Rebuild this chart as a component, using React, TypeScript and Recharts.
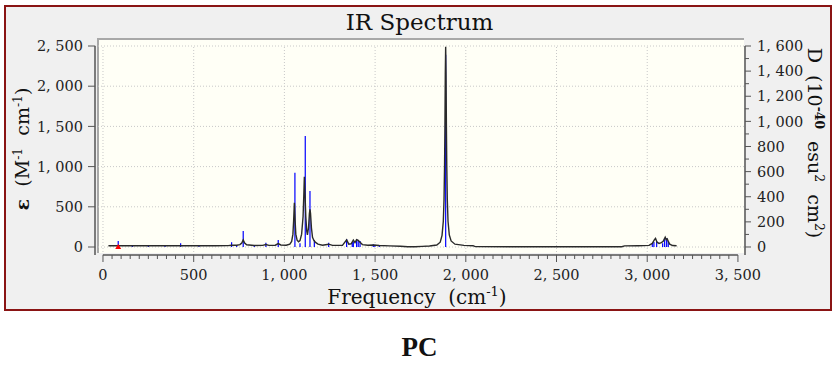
import React from 'react';
import { ComposedChart, Line, Scatter, ErrorBar, XAxis, YAxis, ReferenceLine } from 'recharts';

// broadened spectrum: frequency (cm-1) / epsilon
const curveFreq = [
  30, 84, 162, 250, 342, 428, 529, 620, 690, 709, 737, 755, 765, 773, 781, 792, 834, 880, 898, 915,
  950, 966, 980, 1010, 1030, 1040, 1047, 1051, 1055, 1059, 1063, 1070, 1078, 1086, 1095, 1103, 1107,
  1110, 1114, 1118, 1123, 1127, 1133, 1138, 1141, 1144, 1149, 1155, 1162, 1170, 1185, 1210, 1244,
  1265, 1320, 1343, 1355, 1368, 1380, 1389, 1398, 1407, 1417, 1430, 1460, 1490, 1523, 1580, 1640,
  1680, 1720, 1760, 1800, 1840, 1859, 1869, 1876, 1880, 1883, 1885, 1887, 1889, 1891, 1893, 1895,
  1898, 1902, 1909, 1919, 1940, 1990, 2040, 2052, 2300, 2600, 2860, 2875, 2950, 3010, 3028, 3040,
  3046, 3054, 3065, 3078, 3088, 3094, 3099, 3104, 3110, 3116, 3124, 3140, 3162,
];
const curveEps = [
  15, 17, 15, 15, 16, 16, 15, 15, 17, 22, 22, 30, 50, 88, 50, 28, 18, 20, 30, 20,
  22, 42, 25, 22, 35, 70, 160, 330, 551, 330, 160, 85, 65, 80, 160, 380, 640,
  872, 640, 380, 200, 150, 240, 420, 468, 420, 240, 120, 85, 60, 35, 22, 35,
  20, 20, 88, 35, 40, 85, 55, 92, 82, 60, 30, 22, 24, 18, 14, 10,
  4, 3, 8, 12, 25, 60, 145, 320, 590, 1020, 1520, 2150, 2490, 2150, 1520, 1020,
  590, 320, 150, 75, 35, 20, 16, 5, 3, 3, 4, 14, 16, 20, 45, 90,
  108, 60, 45, 55, 70, 100, 122, 92, 102, 70, 35, 18, 15,
];

// stick spectrum: frequency / D (right axis)
const stickFreq = [
  84, 162, 250, 342, 428, 529, 709, 737, 773, 834, 898, 966, 1058, 1086, 1115, 1141, 1165, 1244,
  1343, 1374, 1380, 1398, 1407, 1417, 1490, 1499, 1523, 1889, 3028, 3037, 3052, 3085, 3096, 3107, 3116,
];
const stickD = [
  48, 16, 14, 16, 29, 12, 37, 16, 127, 12, 34, 56, 591, 29, 884, 446, 56, 34,
  64, 37, 42, 64, 56, 48, 21, 18, 15, 1530, 29, 40, 48, 29, 64, 69, 48,
];

// selected mode marker
const markerFreq = [84];

const freqTicks = [0, 500, 1000, 1500, 2000, 2500, 3000, 3500];
const epsTicks = [0, 500, 1000, 1500, 2000, 2500];
const dTicks = [0, 200, 400, 600, 800, 1000, 1200, 1400, 1600];

const freqMinor = Array.from({ length: 71 }, (_, i) => i * 50);
const dMinor = Array.from({ length: 17 }, (_, i) => i * 100);

const curve = curveFreq.map((f, i) => ({ f, eps: curveEps[i] }));
const sticks = stickFreq.map((f, i) => ({ f, d: stickD[i], err: [stickD[i], 0] }));
const markers = markerFreq.map((f) => ({ f, eps: 0 }));

const fmt = (v: number) => v.toLocaleString('en-US').replace(',', ', ');
const FONT = '"DejaVu Serif", serif';

const XTick = ({ x, y, payload }: any) => {
  const v = payload.value;
  const major = freqTicks.includes(v);
  return (
    <g>
      <line x1={x} y1={y} x2={x} y2={y + (major ? 7 : 4)} stroke="#555" strokeWidth={1} />
      {major && (
        <text x={x} y={y + 25} textAnchor="middle" fill="#222" fontSize={14.5} fontFamily={FONT}>
          {fmt(v)}
        </text>
      )}
    </g>
  );
};

const RightTick = ({ x, y, payload }: any) => {
  const v = payload.value;
  const major = dTicks.includes(v);
  return (
    <g>
      <line x1={x} y1={y} x2={x + (major ? 6 : 4)} y2={y} stroke="#555" strokeWidth={1} />
      {major && (
        <text x={x + 12} y={y} dy="0.36em" textAnchor="start" fill="#222" fontSize={14.5} fontFamily={FONT}>
          {fmt(v)}
        </text>
      )}
    </g>
  );
};

const Marker = ({ cx, cy }: any) => (
  <polygon points={`${cx},${cy - 3} ${cx - 3},${cy + 2} ${cx + 3},${cy + 2}`} fill="#ff0000" />
);

const NoDot = () => <g />;

export default function App() {
  const nb = '\u00a0\u00a0';
  const sup = { fontSize: '0.65em', lineHeight: 0 };
  return (
    <div style={{ position: 'absolute', left: 0, top: 0, width: 839, height: 366, background: '#fff' }}>
      <div
        style={{
          position: 'absolute', left: 4, top: 5, width: 828, height: 306,
          boxSizing: 'border-box', border: '2px solid #8a1414', background: '#f0f0f0',
        }}
      />
      <div
        style={{
          position: 'absolute', left: 97, top: 38, width: 647, height: 215, boxSizing: 'border-box',
          background: '#fffff6', borderTop: '2px solid #a8a8a8', borderLeft: '2px solid #a8a8a8',
        }}
      />
      <div
        style={{
          position: 'absolute', left: 0, top: 8, width: 839, textAlign: 'center',
          fontFamily: FONT, fontSize: 23, lineHeight: '28px', color: '#111',
        }}
      >
        IR Spectrum
      </div>
      <div style={{ position: 'absolute', left: 0, top: 0 }}>
        <ComposedChart width={839} height={320} data={curve} margin={{ top: 46, right: 0, bottom: 25, left: 0 }}>
          <XAxis
            dataKey="f"
            type="number"
            domain={[-44, 3539]}
            allowDataOverflow
            ticks={freqMinor}
            interval={0}
            tick={<XTick />}
            tickSize={0}
            tickMargin={0}
            axisLine={false}
            tickLine={false}
            height={40}
          />
          <YAxis
            yAxisId="left"
            type="number"
            domain={[-99.5, 2500]}
            allowDataOverflow
            ticks={epsTicks}
            interval={0}
            tickFormatter={fmt}
            width={95}
            tickSize={7}
            tickMargin={5}
            axisLine={{ stroke: '#555', strokeWidth: 1.5 }}
            tickLine={{ stroke: '#555' }}
            tick={{ fill: '#222', fontSize: 14.5, fontFamily: FONT }}
          />
          <YAxis
            yAxisId="right"
            orientation="right"
            type="number"
            domain={[-63.7, 1600]}
            allowDataOverflow
            ticks={dMinor}
            interval={0}
            tick={<RightTick />}
            width={94}
            tickSize={0}
            tickMargin={0}
            tickLine={false}
            axisLine={{ stroke: '#555', strokeWidth: 1.5 }}
          />
          {freqTicks.slice(0, -1).map((v) => (
            <ReferenceLine key={'gx' + v} yAxisId="left" x={v} stroke="#c8c8c8" strokeDasharray="1 2" />
          ))}
          {epsTicks.map((v) => (
            <ReferenceLine key={'gy' + v} yAxisId="left" y={v} stroke="#c8c8c8" strokeDasharray="1 2" />
          ))}
          <ReferenceLine
            yAxisId="left"
            segment={[{ x: 0, y: -99.5 }, { x: 3500, y: -99.5 }]}
            stroke="#555"
            strokeWidth={1.5}
            ifOverflow="visible"
          />
          <Scatter yAxisId="right" data={sticks} dataKey="d" shape={<NoDot />} isAnimationActive={false}>
            <ErrorBar dataKey="err" direction="y" width={0} stroke="#0000ff" strokeWidth={1.2} isAnimationActive={false} />
          </Scatter>
          <Line
            yAxisId="left"
            dataKey="eps"
            type="linear"
            stroke="#2a2a2a"
            strokeWidth={1.4}
            dot={false}
            isAnimationActive={false}
          />
          <Scatter yAxisId="left" data={markers} dataKey="eps" shape={<Marker />} isAnimationActive={false} />
        </ComposedChart>
      </div>
      <div
        style={{
          position: 'absolute', left: 417, top: 297, transform: 'translate(-50%, -50%)', whiteSpace: 'nowrap',
          fontFamily: FONT, fontSize: 20, lineHeight: '26px', color: '#111',
        }}
      >
        Frequency{nb}(cm<sup style={sup}>-1</sup>)
      </div>
      <div
        style={{
          position: 'absolute', left: 22, top: 149, transform: 'translate(-50%, -50%) rotate(-90deg)',
          whiteSpace: 'nowrap', fontFamily: FONT, fontSize: 19, lineHeight: '24px', color: '#111',
        }}
      >
        <b>ε</b>{nb}(M<sup style={sup}>-1</sup>{nb}cm<sup style={sup}>-1</sup>)
      </div>
      <div
        style={{
          position: 'absolute', left: 815, top: 143, transform: 'translate(-50%, -50%) rotate(90deg)',
          whiteSpace: 'nowrap', fontFamily: FONT, fontSize: 19, lineHeight: '24px', color: '#111',
        }}
      >
        D{nb}(10<sup style={{ ...sup, fontWeight: 'bold' }}>-40</sup>{nb}esu<sup style={sup}>2</sup>{nb}cm
        <sup style={sup}>2</sup>)
      </div>
      <div
        style={{
          position: 'absolute', left: 0, top: 332, width: 839, textAlign: 'center',
          fontFamily: '"Liberation Serif", serif', fontWeight: 'bold', fontSize: 27, lineHeight: '30px',
          color: '#111',
        }}
      >
        PC
      </div>
    </div>
  );
}
